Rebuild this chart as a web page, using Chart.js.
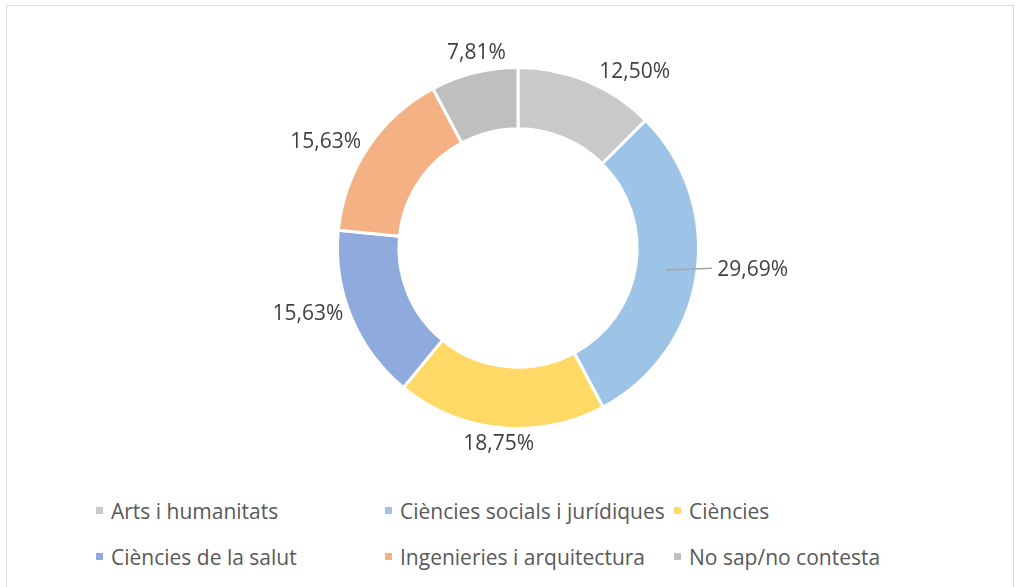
<!DOCTYPE html>
<html>
<head>
<meta charset="utf-8">
<script src="https://cdn.jsdelivr.net/npm/chart.js@4/dist/chart.umd.min.js"></script>
<style>
  html, body { margin: 0; padding: 0; background: #fff; }
  body { width: 1015px; height: 587px; position: relative; overflow: hidden; font-family: "Open Sans", sans-serif; }
  #frame { position: absolute; left: 6px; top: 5px; width: 1006px; height: 600px; border: 1px solid #d9d9d9; }
  #chart { position: absolute; left: 0; top: 0; }
  #legend { position: absolute; left: 96px; top: 497px; width: 870px; }
  .leg-item { position: absolute; font-size: 21px; color: #595959; white-space: nowrap; line-height: 28px; }
  .leg-box { position: absolute; left: 0; top: 10px; width: 7px; height: 7px; }
  .leg-text { position: absolute; left: 15px; top: 0; }
</style>
</head>
<body>
<div id="frame"></div>
<canvas id="chart" width="1015" height="480"></canvas>
<div id="legend"></div>
<script>
var categories = ['Arts i humanitats', 'Ciències socials i jurídiques', 'Ciències',
                  'Ciències de la salut', 'Ingenieries i arquitectura', 'No sap/no contesta'];
var percents = [12.50, 29.69, 18.75, 15.63, 15.63, 7.81];
var colors = ['#c9c9c9', '#9dc3e6', '#ffd966', '#8faadc', '#f4b183', '#bfbfbf'];

// label placement tweaks (degrees shifted from slice middle, extra distance)
var labelShift = [11, -3, 0, 5, -5, 2];
var labelPush = [0, 16, 0, 0, 0, 0];
var leaderLines = [false, true, false, false, false, false];

function fmt(v) {
  return v.toFixed(2).replace('.', ',') + '%';
}

var outsideLabels = {
  id: 'outsideLabels',
  afterDatasetsDraw: function(chart) {
    var ctx = chart.ctx;
    var meta = chart.getDatasetMeta(0);
    ctx.save();
    ctx.font = '21px "Open Sans"';
    ctx.textAlign = 'center';
    ctx.textBaseline = 'middle';
    meta.data.forEach(function(arc, i) {
      var p = arc.getProps(['x', 'y', 'startAngle', 'endAngle', 'outerRadius', 'innerRadius'], true);
      var mid = (p.startAngle + p.endAngle) / 2;
      var a = mid + labelShift[i] * Math.PI / 180;
      var txt = fmt(percents[i]);
      var w = ctx.measureText(txt).width;
      var h = 20;
      var d = p.outerRadius + 3 + Math.abs(Math.cos(a)) * w / 2 + Math.abs(Math.sin(a)) * h / 2 + labelPush[i];
      var lx = p.x + Math.cos(a) * d;
      var ly = p.y + Math.sin(a) * d;
      if (leaderLines[i]) {
        var rm = (p.outerRadius + p.innerRadius) / 2;
        ctx.strokeStyle = '#a6a6a6';
        ctx.lineWidth = 1.5;
        ctx.beginPath();
        ctx.moveTo(p.x + Math.cos(mid) * rm, p.y + Math.sin(mid) * rm);
        ctx.lineTo(lx - w / 2 - 5, ly - 2);
        ctx.stroke();
      }
      ctx.fillStyle = '#404040';
      ctx.fillText(txt, lx, ly);
    });
    ctx.restore();
  }
};

var chart = new Chart(document.getElementById('chart'), {
  type: 'doughnut',
  data: {
    labels: categories,
    datasets: [{
      data: percents,
      backgroundColor: colors,
      borderColor: '#ffffff',
      borderWidth: 3
    }]
  },
  options: {
    responsive: false,
    animation: false,
    cutout: '66%',
    layout: { padding: { left: 336, right: 315, top: 66, bottom: 50 } },
    plugins: {
      legend: { display: false },
      tooltip: { enabled: false }
    }
  },
  plugins: [outsideLabels]
});

// legend in a 3-column grid, like the original
var items = Chart.overrides.doughnut.plugins.legend.labels.generateLabels(chart);
var legend = document.getElementById('legend');
items.forEach(function(item, i) {
  var el = document.createElement('div');
  el.className = 'leg-item';
  el.style.left = (i % 3) * 289 + 'px';
  el.style.top = Math.floor(i / 3) * 46 + 'px';
  el.innerHTML = '<span class="leg-box" style="background:' + item.fillStyle + '"></span>' +
                 '<span class="leg-text">' + item.text + '</span>';
  legend.appendChild(el);
});
</script>
</body>
</html>
